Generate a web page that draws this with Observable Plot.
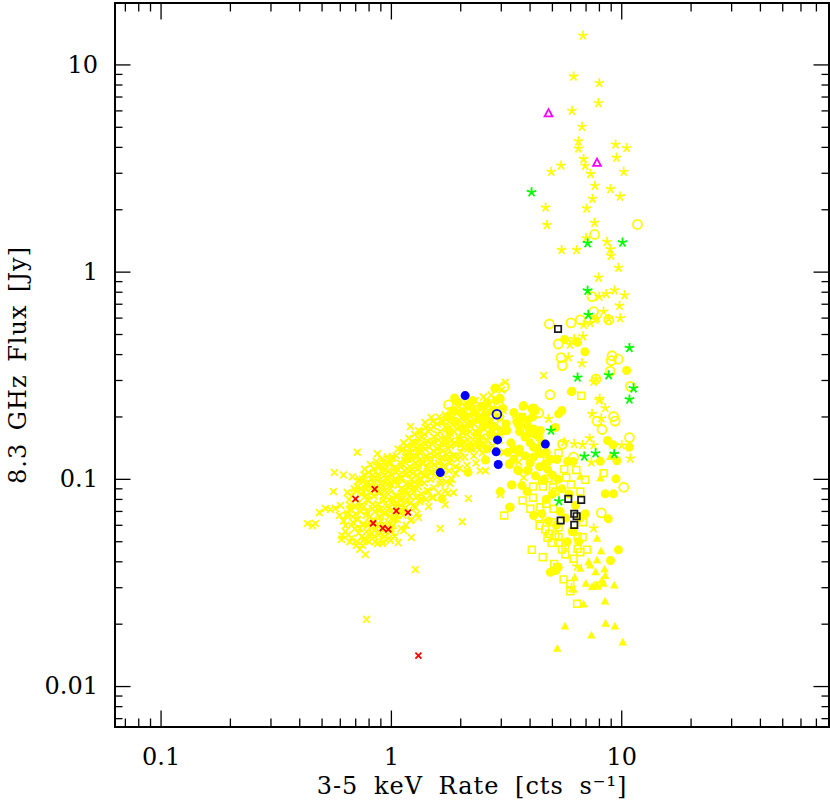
<!DOCTYPE html>
<html><head><meta charset="utf-8">
<style>html,body{margin:0;padding:0;background:#fff}svg{display:block}
.xtitle text{letter-spacing:1px;word-spacing:7px}
.ytitle text{letter-spacing:1px;word-spacing:4px}
</style>
<script src="https://cdn.jsdelivr.net/npm/d3@7"></script>
<script src="https://cdn.jsdelivr.net/npm/@observablehq/plot@0.6"></script>
</head><body><div id="chart"></div>
<script>
const xMajor=[0.1,1,10];
const xMinor=[0.07,0.08,0.09,0.2,0.3,0.4,0.5,0.6,0.7,0.8,0.9,2,3,4,5,6,7,8,9,20,30,40,50,60,70];
const yMajor=[0.01,0.1,1,10];
const yMinor=[0.007,0.008,0.009,0.02,0.03,0.04,0.05,0.06,0.07,0.08,0.09,0.2,0.3,0.4,0.5,0.6,0.7,0.8,0.9,2,3,4,5,6,7,8,9];
const xTitle="3-5 keV Rate [cts s⁻¹]";
const yTitle="8.3 GHz Flux [Jy]";

const yellowCross=[[.432,.0612],[.454,.0598],[.468,.0612],[.487,.0691],[.517,.0723],[.543,.0715],[.571,.0723],[.601,.0748],[.595,.0669],[.56,.0873],[.566,.108],[.619,.105],[.677,.103],[.644,.0863],[.711,.135],[.869,.133],[1.01,.129],[1.21,.18],[1.31,.172],[1.4,.188],[1.49,.199],[.607,.0513],[.632,.0598],[.771,.0434],[1.27,.0367],[1.63,.0579],[2.03,.0625],[2.16,.0808],[1.71,.0755],[1.45,.0739],[1.22,.0524],[1.07,.0495],[.78,.0211],[4.58,.317],[3.12,.294],[3.07,.135],[3.57,.121],[3.75,.102],[2.97,.0844],
[.62,.063],[.63,.056],[.61,.0535],[.64,.067],[.655,.08],[.66,.075],[.645,.0685],[.67,.06],[.65,.054],[.66,.05],[.69,.09],[.675,.083],[.7,.074],[.68,.066],[.695,.058],[.67,.052],[.705,.048],[.725,.1],[.71,.092],[.74,.085],[.72,.077],[.735,.07],[.715,.064],[.73,.058],[.745,.053],[.71,.05],[.73,.046],
[.765,.112],[.75,.1],[.775,.094],[.755,.087],[.785,.08],[.76,.074],[.775,.067],[.755,.061],[.78,.056],[.765,.052],[.75,.048],[.81,.118],[.795,.108],[.82,.1],[.8,.093],[.815,.086],[.79,.079],[.825,.072],[.805,.066],[.79,.06],[.82,.055],[.8,.05],
[.86,.122],[.84,.112],[.87,.105],[.845,.097],[.865,.09],[.84,.083],[.875,.076],[.85,.07],[.835,.064],[.86,.058],[.84,.053],[.87,.049],[.91,.125],[.89,.115],[.92,.108],[.895,.1],[.915,.093],[.885,.086],[.925,.079],[.9,.072],[.885,.066],[.915,.06],[.895,.055],[.92,.05],
[.96,.128],[.94,.118],[.975,.11],[.95,.102],[.965,.095],[.935,.088],[.98,.08],[.955,.074],[.94,.068],[.97,.062],[.945,.056],[.975,.052],[1.01,.126],[.995,.12],[1.03,.113],[1.0,.105],[1.02,.098],[.99,.09],[1.04,.083],[1.01,.076],[.995,.07],[1.03,.064],[1.0,.058],[1.035,.053],
[1.07,.14],[1.05,.13],[1.09,.12],[1.06,.112],[1.08,.105],[1.045,.098],[1.1,.09],[1.065,.083],[1.05,.077],[1.09,.07],[1.06,.064],[1.1,.058],[1.13,.15],[1.11,.138],[1.15,.128],[1.12,.118],[1.14,.11],[1.105,.102],[1.16,.095],[1.125,.088],[1.11,.08],[1.15,.073],[1.12,.067],[1.16,.06],
[1.19,.158],[1.17,.145],[1.21,.135],[1.18,.125],[1.2,.115],[1.165,.107],[1.22,.1],[1.185,.092],[1.17,.085],[1.21,.077],[1.18,.07],[1.22,.064],[1.26,.165],[1.24,.152],[1.28,.14],[1.25,.13],[1.27,.12],[1.235,.112],[1.29,.105],[1.255,.097],[1.24,.09],[1.28,.082],[1.25,.075],[1.29,.068],
[1.33,.17],[1.31,.158],[1.35,.147],[1.32,.135],[1.34,.125],[1.305,.117],[1.36,.108],[1.325,.1],[1.31,.092],[1.35,.085],[1.33,.078],[1.41,.178],[1.39,.165],[1.43,.153],[1.4,.14],[1.42,.13],[1.385,.12],[1.44,.112],[1.405,.104],[1.39,.096],[1.43,.088],[1.41,.08],
[1.51,.19],[1.48,.175],[1.53,.16],[1.5,.148],[1.52,.137],[1.475,.127],[1.54,.118],[1.495,.108],[1.48,.1],[1.53,.091],[1.5,.082],[1.61,.2],[1.58,.185],[1.63,.17],[1.6,.155],[1.62,.143],[1.575,.132],[1.64,.122],[1.595,.112],[1.58,.103],[1.63,.095],[1.6,.086],
[1.71,.205],[1.68,.19],[1.74,.175],[1.7,.16],[1.72,.148],[1.67,.137],[1.75,.126],[1.69,.116],[1.68,.106],[1.73,.097],[1.81,.215],[1.78,.2],[1.84,.183],[1.8,.167],[1.82,.153],[1.77,.14],[1.85,.13],[1.79,.12],[1.78,.11],[1.83,.1],
[1.96,.225],[1.92,.208],[1.99,.19],[1.94,.175],[1.97,.16],[1.91,.147],[2.0,.135],[1.93,.125],[1.98,.113],[2.11,.235],[2.07,.215],[2.14,.197],[2.09,.18],[2.12,.165],[2.06,.152],[2.15,.14],[2.08,.128],[2.13,.117],
[2.31,.24],[2.27,.22],[2.34,.2],[2.29,.185],[2.32,.17],[2.26,.155],[2.35,.143],[2.28,.13],[2.33,.12],[2.51,.25],[2.47,.225],[2.54,.205],[2.49,.19],[2.52,.175],[2.46,.16],[2.55,.147],[2.48,.134],[2.71,.255],[2.67,.23],[2.74,.21],[2.69,.19],[2.72,.175],[2.66,.16],[2.75,.145],[3.01,.27],[2.96,.24],[3.05,.215],[2.98,.195],[3.03,.175],[2.94,.155],[3.06,.135],
[.74,.09],[.77,.083],[.79,.097],[.82,.091],[.83,.076],[.85,.101],[.87,.087],[.88,.071],[.9,.096],[.92,.083],[.93,.069],[.96,.1],[.97,.085],[.98,.073],[1.0,.094],[1.02,.08],[1.03,.068],[1.05,.108],[1.07,.094],[1.08,.08],[1.1,.115],[1.1,.1],[1.12,.085],[1.14,.124],[1.15,.105],[1.16,.088],[1.18,.135],[1.19,.11],[1.2,.095],[1.23,.145],[1.22,.125],[1.24,.107],[1.26,.092],[1.28,.15],[1.28,.128],[1.3,.112],[1.32,.096],[1.35,.16],[1.34,.138],[1.36,.12],[1.38,.105],[1.4,.148],[1.42,.128],[1.43,.115],[1.45,.17],[1.46,.143],[1.47,.122],[1.48,.108],[1.52,.18],[1.52,.152],[1.54,.13],[1.55,.11],[1.58,.165],[1.59,.14],[1.6,.12],[1.65,.19],[1.65,.15],[1.66,.128],[1.67,.11],[1.72,.178],[1.72,.155],[1.74,.132],[1.78,.19],[1.78,.162],[1.8,.145],[1.82,.125],[1.85,.2],[1.87,.17],[1.88,.15],[1.89,.13],[1.9,.115],[1.95,.215],[1.96,.18],[1.97,.155],[2.0,.128],[2.02,.2],[2.03,.17],[2.05,.142],[2.1,.225],[2.12,.185],[2.15,.155],[2.18,.205],[2.2,.17],[2.22,.14],[2.25,.23],[2.28,.193],[2.3,.16],[2.38,.21],[2.4,.175],[2.42,.14],[2.45,.2],[2.58,.22],[2.6,.18],[2.6,.155],[2.8,.2],[2.85,.165],[2.88,.22],
[.66,.072],[.68,.062],[.7,.068],[.7,.08],[.72,.055],[.73,.074],[.75,.06],[.76,.051],[.78,.07],[.77,.09],[.8,.062],[.81,.053],[.83,.058],[.85,.05],[.87,.06],[.88,.054],[.9,.063],[.93,.053],[.95,.058],[.98,.066],[1.0,.056],[1.02,.06],[1.04,.074],[1.07,.067],[1.1,.075],[1.13,.07],[1.17,.078],[1.2,.083],[1.25,.087],[.83,.105],[.87,.115],[.93,.112],[.97,.12],[.76,.105],[.7,.088],[.72,.098],
[1.31,.0654],[1.21,.0633],[1.13,.0566],[.99,.0507],[.914,.049],[1.75,.0855],[1.86,.0863],[1.27,.0731],[1.34,.0808],[1.52,.0817],[1.9,.1067],[2.43,.11],[2.56,.11],[1.71,.088],[1.63,.0987],[1.8,.0955],[1.45,.0875],[.914,.114],[1.116,.141],[1.245,.149],[1.31,.138]];

const yellowStar=[[6.79,13.87],[6.18,8.8],[7.99,8.18],[7.93,6.55],[6.08,6.01],[6.72,5.03],[6.49,4.28],[6.49,3.95],[9.4,4.13],[10.5,3.97],[9.49,3.57],[6.83,3.52],[6.94,3.26],[5.45,3.27],[4.94,3.05],[7.32,2.98],[10.2,3.05],[7.65,2.61],[8.94,2.52],[9.83,2.32],[7.47,2.26],[7.04,2.03],[4.67,2.05],[4.74,1.69],[7.62,1.73],[7.01,1.46],[8.63,1.4],[8.92,1.29],[8.97,1.2],[5.48,1.28],[6.37,1.28],[9.68,1.05],[7.93,.941],[9.31,.817],[10.3,.773],[8.57,.785],[7.99,.762],[9.78,.689],[9.85,.599],[8.34,.645],[7.8,.599],[7.67,.59],[7.3,.569],[6.83,.558],[6.79,.49],[6.22,.476],[5.96,.447],[5.87,.388],[6.72,.363],[7.55,.296],[8.77,.595],[7.73,.305],[8.02,.245],[7.99,.24],[8.48,.221],[7.43,.207],[8.15,.197],[5.63,.151],[6.22,.148],[6.76,.147],[7.25,.158],[7.55,.146],[7.38,.121],[10,.146],[10.9,.126],[3.45,.205],[3.81,.198],[4.81,.196],[7.55,.0581],[6.4,.038],[6.05,.03]];

const filledDot=[[4.9,.0356],[5.18,.0363],[5.3,.0377],[8.94,.0406],[9.68,.0457],[8.74,.0645],[6.94,.0682],[8.48,.0851],[9.21,.0851],[9.44,.1006],[3.28,.0733],[2.97,.0873],[3.34,.094],[3.69,.0933],[3.88,.0873],[4.14,.0669],[4.5,.0682],[3.26,.119],[3.57,.11],[3.9,.11],[4.22,.104],[4.76,.112],[5.24,.1246],[5.82,.1223],[6.14,.122],[8.07,.1223],[9.53,.123],[8.68,.154],[9.16,.1467],[10.8,.143],[6.08,.266],[5.5,.215],[5.32,.207],[5.15,.178],[4.14,.175],[4.43,.172],[3.88,.192],[3.57,.189],[3.75,.227],[4.07,.219],[4.36,.16],[3.94,.166],[4.14,.143],[4.14,.128],[4.43,.133],[4.66,.119],[3.39,.14],[3.57,.135],[3.12,.172],[2.97,.245],[2.83,.276],[5.65,.473],[6.43,.458],[6.92,.413],[10.5,.335],[6.05,.265],
[2.81,.275],[1.88,.247],[2.95,.246],[2.15,.108],[3.26,.118],[3.32,.094],[3.26,.0733],[1.66,.0805],[3.53,.111],[3.92,.111],[2.56,.124],[3.73,.225],[4.22,.215],[3.17,.172],[3.57,.182],
[1.85,.215],[1.95,.235],[1.9,.19],[2.0,.21],[2.05,.175],[2.1,.2],[2.15,.225],[2.2,.185],[2.25,.24],[2.3,.21],[2.35,.165],[2.4,.195],[2.45,.225],[2.5,.18],[2.55,.205],[2.6,.235],[2.65,.19],[2.7,.165],[2.75,.215],[2.8,.18],[2.85,.24],[2.95,.2],[3.0,.17],[3.05,.22],[3.15,.185],[1.75,.2],[1.8,.17],[2.0,.15],[2.2,.145],[2.4,.15],[2.6,.14],
[3.4,.21],[3.5,.19],[3.6,.17],[3.7,.2],[3.8,.16],[3.9,.18],[4.0,.15],[4.1,.2],[4.2,.165],[3.3,.15],[3.4,.125],[3.6,.14],[3.8,.13],[4.0,.12],[4.3,.14],[4.5,.15],[4.4,.115],[4.7,.135],[4.9,.125],[3.2,.135],[5.0,.105],[4.6,.1],[5.3,.1],[5.5,.09],[5.0,.085],[4.7,.08],[5.4,.07],[5.9,.085],[5.7,.065],[6.3,.075],[6.6,.065],[6.1,.056],[5.8,.05],[5.2,.06],[4.8,.063],[6.5,.05]];

const openDot=[[11.7,1.7],[7.62,1.52],[7.43,.762],[7.55,.645],[6.61,.588],[6.02,.569],[4.85,.562],[8.79,.588],[5.3,.45],[5.45,.387],[5.52,.354],[9.07,.395],[9,.374],[9.66,.38],[8.91,.332],[7.73,.305],[10.9,.281],[4.88,.256],[7.81,.191],[9.21,.201],[9.37,.191],[8.21,.174],[10.8,.159],[5.53,.148],[6.18,.128],[10.2,.0916],[8.15,.0689],[4.14,.219],[4.36,.209],[1.77,.229],[3.09,.28]];

const openSquare=[[6.67,.253],[5.32,.134],[4.74,.123],[5.63,.112],[6.35,.111],[8.34,.107],[6.94,.0995],[5.74,.102],[4.5,.0987],[4.81,.101],[6.02,.0944],[4.12,.0923],[4.55,.0923],[5.03,.0916],[5.16,.0873],[6.61,.0873],[4.12,.0815],[3.71,.0791],[3.09,.0669],[4.01,.0721],[4.43,.0733],[4.7,.0762],[5.06,.0721],[4.36,.0656],[4.4,.0598],[4.66,.0573],[4.98,.0621],[5.32,.0587],[4.86,.0546],[5.15,.0536],[4.76,.0522],[4.96,.0494],[5.37,.0494],[5.32,.0526],[5.69,.0479],[5.5,.0458],[5.69,.0434],[6.43,.053],[6.76,.0526],[6.14,.056],[6.79,.0621],[6.43,.0462],[7.06,.0458],[6.61,.0445],[6.18,.0414],[4.07,.0457],[4.54,.0421],[5.09,.0391],[5.24,.0377],[5.59,.0329],[5.98,.0313],[5.98,.0288],[6.4,.0251],[7.85,.0307]];

const filledTriangle=[[7.81,.0516],[8.13,.0449],[6.61,.103],[8.07,.101],[8.91,.128],[7.81,.0406],[7.18,.0398],[7.3,.0384],[6.61,.037],[7.7,.0356],[8.42,.0367],[8.48,.0341],[6.24,.0335],[6.99,.0313],[7.43,.0302],[7.8,.0307],[8.34,.0313],[8.21,.0325],[9.28,.0307],[6.18,.0293],[6.83,.0249],[8.46,.0257],[5.67,.0195],[8.51,.0201],[9.34,.0195],[7.38,.0176],[10.1,.0163],[5.25,.0152]];

const greenStar=[[4.06,2.43],[7.11,1.38],[10.08,1.39],[7.11,.814],[7.16,.622],[10.8,.431],[6.43,.31],[8.77,.318],[11.25,.275],[10.8,.243],[4.93,.172],[6.88,.129],[7.7,.1336],[9.28,.1327],[5.34,.0784]];
const redCross=[[.846,.0896],[.698,.0805],[1.05,.0705],[1.18,.0691],[.833,.0614],[.917,.0581],[.97,.0573],[1.31,.0141]];
const blueDot=[[2.09,.2537],[2.89,.155],[2.85,.1358],[2.91,.118],[1.63,.1078],[4.66,.148]];
const blueOpen=[[2.87,.206]];
const magentaTriangle=[[4.81,5.82],[7.81,3.36]];
const blackSquare=[[5.29,.532],[5.86,.0805],[6.67,.0796],[6.22,.0682],[6.37,.0664],[5.43,.0633],[6.22,.0603]];

const rad=s=>Math.sqrt(s/Math.PI);
const crossSym={draw(c,s){const r=rad(s);c.moveTo(-r,-r);c.lineTo(r,r);c.moveTo(-r,r);c.lineTo(r,-r);}};
const starSym={draw(c,s){const r=rad(s);for(let i=0;i<5;i++){const a=-Math.PI/2+i*2*Math.PI/5;c.moveTo(0,0);c.lineTo(r*Math.cos(a),r*Math.sin(a));}}};
const squareSym={draw(c,s){const r=rad(s);c.rect(-r,-r,2*r,2*r);}};
const triSym={draw(c,s){const r=rad(s);c.moveTo(0,-r*1.15);c.lineTo(r,r*.7);c.lineTo(-r,r*.7);c.closePath();}};
const xv=d=>d[0], yv=d=>d[1];
const ol=(data,symbol,stroke,r,strokeWidth)=>Plot.dot(data,{x:xv,y:yv,symbol,stroke,fill:"none",r,strokeWidth});
const fl=(data,symbol,fill,r)=>Plot.dot(data,{x:xv,y:yv,symbol,fill,stroke:"none",r});
const ink="#000", font="DejaVu Serif";
const axisTicks=(Axis,ticks,anchor,size)=>Axis({anchor,ticks,tickSize:-size,tickFormat:()=>"",label:null,stroke:ink,strokeWidth:1.3,strokeOpacity:1});

const chart=Plot.plot({
  width:830,height:801,marginLeft:114.5,marginRight:1.5,marginTop:2.5,marginBottom:74.5,
  style:{background:"#fff"},
  x:{type:"log",domain:[0.0631,79.4]},
  y:{type:"log",domain:[0.00638,19.9]},
  marks:[
    ol(yellowCross,crossSym,"#ffff00",3.4,1.8),
    fl(filledDot,"circle","#ffff00",4.5),
    ol(openDot,"circle","#ffff00",4.5,1.8),
    ol(openSquare,squareSym,"#ffff00",3.4,1.6),
    fl(filledTriangle,triSym,"#ffff00",4.2),
    ol(yellowStar,starSym,"#ffff00",5,1.7),
    ol(greenStar,starSym,"#00ff00",5,1.8),
    ol(redCross,crossSym,"#ff0000",3,1.8),
    fl(blueDot,"circle","#0000ff",4.5),
    ol(blueOpen,"circle","#0000ff",4.4,1.8),
    ol(magentaTriangle,triSym,"#ff00ff",3.9,1.8),
    ol(blackSquare,squareSym,"#1a1a1a",3.2,1.7),
    axisTicks(Plot.axisX,xMajor,"bottom",16),axisTicks(Plot.axisX,xMinor,"bottom",8),
    axisTicks(Plot.axisX,xMajor,"top",16),axisTicks(Plot.axisX,xMinor,"top",8),
    axisTicks(Plot.axisY,yMajor,"left",16),axisTicks(Plot.axisY,yMinor,"left",8),
    axisTicks(Plot.axisY,yMajor,"right",16),axisTicks(Plot.axisY,yMinor,"right",8),
    Plot.axisX({anchor:"bottom",ticks:xMajor,tickSize:0,tickPadding:21,tickFormat:d=>String(d),label:null,fontSize:24,fontFamily:font,fill:ink}),
    Plot.axisY({anchor:"left",ticks:yMajor,tickSize:0,tickPadding:17,tickFormat:d=>String(d),label:null,fontSize:24,fontFamily:font,fill:ink}),
    Plot.text([xTitle],{className:"xtitle",frameAnchor:"bottom",dy:66.5,fontSize:24,fontFamily:font,fill:ink}),
    Plot.text([yTitle],{className:"ytitle",frameAnchor:"left",textAnchor:"middle",lineAnchor:"middle",rotate:-90,dx:-97,fontSize:24,fontFamily:font,fill:ink}),
    Plot.frame({stroke:ink,strokeWidth:2})
  ]
});
document.getElementById("chart").append(chart);
</script></body></html>
